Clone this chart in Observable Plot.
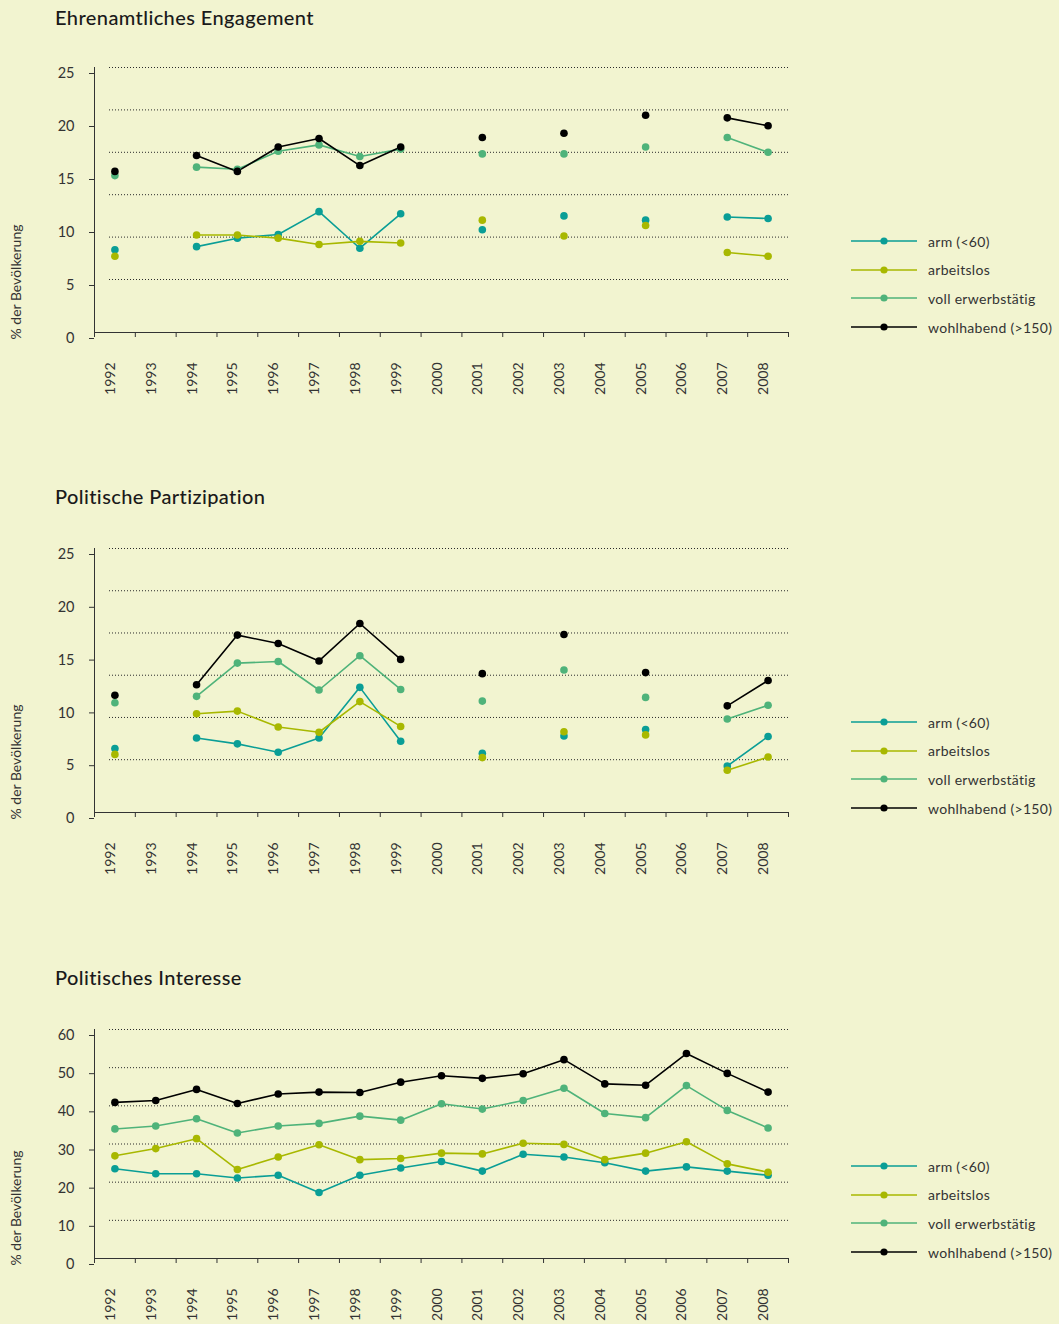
<!DOCTYPE html>
<html>
<head>
<meta charset="utf-8">
<script src="https://cdn.jsdelivr.net/npm/d3@7"></script>
<script src="https://cdn.jsdelivr.net/npm/@observablehq/plot@0.6"></script>
<style>
  html, body { margin: 0; padding: 0; background: #f2f4d0; }
  #root { position: relative; width: 1059px; height: 1324px; overflow: hidden; background: #f2f4d0; font-family: Lato, "Noto Sans", sans-serif; }
  .title { position: absolute; left: 55px; font-size: 20px; line-height: 24px; color: #1a1a1a; letter-spacing: 0.4px; font-weight: 500; white-space: nowrap; }
  .chart { position: absolute; left: 0; }
  .legend { position: absolute; left: 851px; width: 208px; }
  .legend .row { position: absolute; left: 0; height: 20px; display: flex; align-items: center; white-space: nowrap; }
  .legend .row span { margin-left: 11px; font-size: 14px; color: #333; letter-spacing: 0.3px; }
</style>
</head>
<body>
<div id="root"></div>
<script>
// ---------- data ----------
const years = [1992, 1993, 1994, 1995, 1996, 1997, 1998, 1999, 2000, 2001, 2002, 2003, 2004, 2005, 2006, 2007, 2008];
const seriesNames = ["arm (<60)", "arbeitslos", "voll erwerbstätig", "wohlhabend (>150)"];
const seriesColors = ["#0a9e96", "#a8b800", "#4fb37a", "#000000"];

// Ehrenamtliches Engagement
const engagementArm        = [7.8, null, 8.1, 8.9, 9.25, 11.4, 7.95, 11.2, null, 9.7, null, 11.0, null, 10.6, null, 10.9, 10.75];
const engagementArbeitslos = [7.2, null, 9.2, 9.2, 8.9, 8.3, 8.6, 8.45, null, 10.6, null, 9.1, null, 10.1, null, 7.55, 7.2];
const engagementVoll       = [14.8, null, 15.6, 15.4, 17.1, 17.7, 16.6, 17.3, null, 16.85, null, 16.85, null, 17.5, null, 18.4, 17.0];
const engagementWohl       = [15.2, null, 16.7, 15.2, 17.5, 18.3, 15.75, 17.5, null, 18.4, null, 18.8, null, 20.5, null, 20.25, 19.5];

// Politische Partizipation
const partizipationArm        = [6.05, null, 7.05, 6.5, 5.7, 7.05, 11.85, 6.75, null, 5.6, null, 7.25, null, 7.85, null, 4.4, 7.2];
const partizipationArbeitslos = [5.5, null, 9.35, 9.6, 8.1, 7.6, 10.5, 8.15, null, 5.2, null, 7.65, null, 7.35, null, 4.0, 5.25];
const partizipationVoll       = [10.4, null, 11.0, 14.15, 14.3, 11.6, 14.85, 11.65, null, 10.55, null, 13.5, null, 10.9, null, 8.85, 10.15];
const partizipationWohl       = [11.1, null, 12.1, 16.8, 16.0, 14.35, 17.9, 14.5, null, 13.15, null, 16.85, null, 13.25, null, 10.1, 12.5];

// Politisches Interesse
const interesseArm        = [23.5, 22.2, 22.2, 21.1, 21.8, 17.3, 21.8, 23.7, 25.4, 22.9, 27.3, 26.6, 25.1, 22.9, 24.0, 22.9, 21.8];
const interesseArbeitslos = [26.9, 28.8, 31.4, 23.3, 26.6, 29.8, 25.9, 26.2, 27.6, 27.4, 30.2, 29.9, 25.9, 27.6, 30.6, 24.8, 22.6];
const interesseVoll       = [33.95, 34.7, 36.6, 32.9, 34.7, 35.4, 37.3, 36.25, 40.55, 39.15, 41.4, 44.6, 38.0, 36.9, 45.3, 38.8, 34.2];
const interesseWohl       = [40.9, 41.4, 44.3, 40.6, 43.1, 43.6, 43.5, 46.2, 47.9, 47.2, 48.4, 52.1, 45.75, 45.4, 53.7, 48.5, 43.6];

// axis ticks and gridlines
const yTicks25 = [0, 5, 10, 15, 20, 25];
const yTicks60 = [0, 10, 20, 30, 40, 50, 60];
const grid25 = [5, 9, 13, 17, 21, 25];
const grid60 = [10, 20, 30, 40, 50, 60];
const yLabel = "% der Bevölkerung";

const panels = [
  { title: "Ehrenamtliches Engagement", series: [engagementArm, engagementArbeitslos, engagementVoll, engagementWohl], yDomain: [0, 25], ticks: yTicks25, grid: grid25 },
  { title: "Politische Partizipation", series: [partizipationArm, partizipationArbeitslos, partizipationVoll, partizipationWohl], yDomain: [0, 25], ticks: yTicks25, grid: grid25 },
  { title: "Politisches Interesse", series: [interesseArm, interesseArbeitslos, interesseVoll, interesseWohl], yDomain: [0, 60], ticks: yTicks60, grid: grid60 }
];

// ---------- layout ----------
const layout = [
  { titleTop: 5,   svgTop: 39,   height: 370, marginTop: 28, marginBottom: 77, legendBottom: 327 },
  { titleTop: 484, svgTop: 520,  height: 370, marginTop: 28, marginBottom: 78, legendBottom: 808 },
  { titleTop: 965, svgTop: 1001, height: 323, marginTop: 28, marginBottom: 66, legendBottom: 1252 }
];

const root = document.getElementById("root");
const boundaries = years.map(y => y - 0.5).concat([years[years.length - 1] + 0.5]);
const xDomain = [boundaries[0], boundaries[boundaries.length - 1]];

panels.forEach((p, i) => {
  const L = layout[i];
  const rows = [];
  p.series.forEach((vals, s) => {
    vals.forEach((v, k) => rows.push({ year: years[k], series: seriesNames[s], value: v }));
  });

  const t = document.createElement("div");
  t.className = "title";
  t.style.top = L.titleTop + "px";
  t.textContent = p.title;
  root.appendChild(t);

  const chart = Plot.plot({
    width: 800,
    height: L.height,
    marginLeft: 94,
    marginRight: 12,
    marginTop: L.marginTop,
    marginBottom: L.marginBottom,
    style: { background: "transparent", fontFamily: "Lato, 'Noto Sans', sans-serif", color: "#333", overflow: "visible" },
    x: { domain: xDomain, axis: null },
    y: { domain: p.yDomain, axis: null },
    color: { domain: seriesNames, range: seriesColors },
    marks: [
      Plot.ruleY(p.grid, { stroke: "#2a2a2a", strokeWidth: 1, strokeDasharray: "1,2", insetLeft: 15 }),
      Plot.ruleX([xDomain[0]], { y1: p.yDomain[0], y2: p.yDomain[1], stroke: "#333", strokeWidth: 1 }),
      Plot.ruleY([p.yDomain[0]], { stroke: "#333", strokeWidth: 1 }),
      Plot.axisY(p.ticks, { tickSize: 5, tickPadding: 15, dy: 6, fontSize: 14.5, stroke: "#333", fill: "#333", label: null }),
      Plot.axisX(boundaries, { tickSize: 5, tickFormat: () => "", stroke: "#333", label: null }),
      Plot.text(years, { x: d => d, text: d => String(d), frameAnchor: "bottom", rotate: -90, textAnchor: "end", dy: 30, fontSize: 14, fill: "#333" }),
      Plot.text([yLabel], { text: d => d, frameAnchor: "bottom-left", rotate: -90, textAnchor: "start", dx: -74, dy: 7, fontSize: 14, fill: "#333" }),
      Plot.line(rows, { x: "year", y: "value", z: "series", stroke: "series", strokeWidth: 1.6 }),
      Plot.dot(rows.filter(d => d.value != null), { x: "year", y: "value", fill: "series", r: 3.8 })
    ]
  });
  chart.classList.add("chart");
  chart.style.top = L.svgTop + "px";
  root.appendChild(chart);

  const lg = document.createElement("div");
  lg.className = "legend";
  lg.style.top = "0px";
  seriesNames.forEach((name, s) => {
    const r = document.createElement("div");
    r.className = "row";
    const center = L.legendBottom - (seriesNames.length - 1 - s) * 28.6;
    r.style.top = (center - 10) + "px";
    r.innerHTML = `<svg width="66" height="20"><line x1="0" x2="66" y1="10" y2="10" stroke="${seriesColors[s]}" stroke-width="1.6"/><circle cx="33" cy="10" r="3.6" fill="${seriesColors[s]}"/></svg><span></span>`;
    r.querySelector("span").textContent = name;
    lg.appendChild(r);
  });
  root.appendChild(lg);
});
</script>
</body>
</html>
